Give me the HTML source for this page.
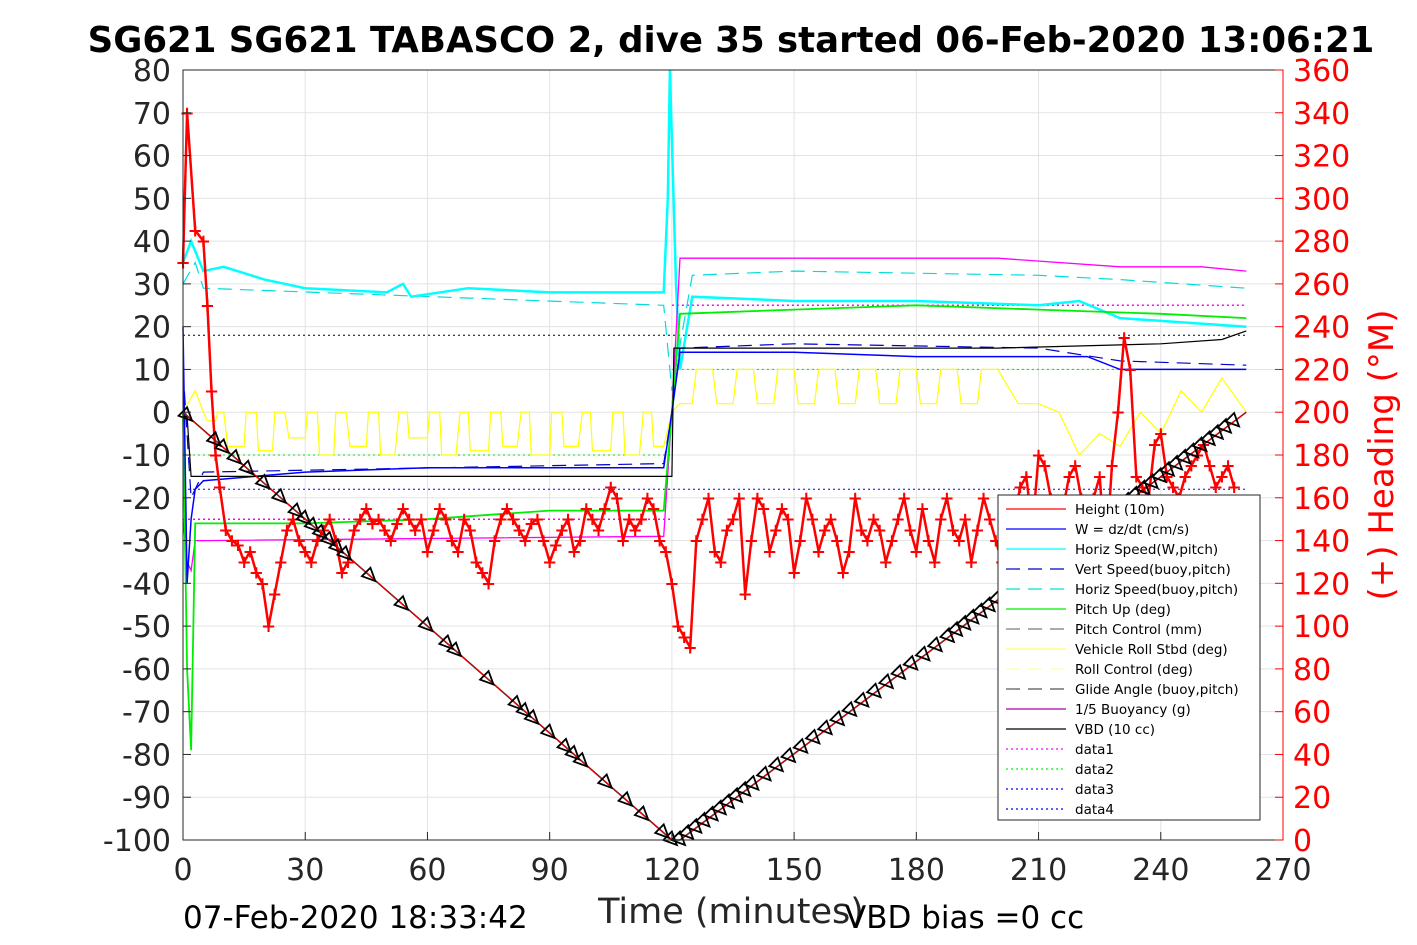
<!DOCTYPE html>
<html><head><meta charset="utf-8"><style>
body{margin:0;background:#fff;}
svg{display:block;font-family:"DejaVu Sans","Liberation Sans",sans-serif;}
</style></head><body>
<svg id="c" width="1417" height="945"></svg>
<script>
const depthT=[0,120,122,261];
const depthV=[0,-100,-100,0];
const markerT=[1,8,10,13,16,20,24,28,30,32,34,36,38,40,46,54,60,65,67,75,82,84,86,90,94,96,98,104,109,113,118,120,122,124,126,128,130,132,134,136,138,140,143,146,149,152,155,158,161,164,167,170,173,176,179,182,185,188,190,192,194,196,198,200,230,232,234,236,238,240,242,244,246,248,250,252,254,256,258];
const headT=[0,1,3,5,6,7,8,9,10.5,12,13.5,15,16.5,18,19.5,21,22.5,24,25.5,27,28.5,30,31.5,33,34.5,36,37.5,39,40.5,42,43.5,45,46.5,48,49.5,51,52.5,54,55.5,57,58.5,60,61.5,63,64.5,66,67.5,69,70.5,72,73.5,75,76.5,78,79.5,81,82.5,84,85.5,87,88.5,90,91.5,93,94.5,96,97.5,99,100.5,102,103.5,105,106.5,108,109.5,111,112.5,114,115.5,117,118.5,120,121.5,123,124.5,126,127.5,129,130.5,132,133.5,135,136.5,138,139.5,141,142.5,144,145.5,147,148.5,150,151.5,153,154.5,156,157.5,159,160.5,162,163.5,165,166.5,168,169.5,171,172.5,174,175.5,177,178.5,180,181.5,183,184.5,186,187.5,189,190.5,192,193.5,195,196.5,198,199.5,201,202.5,204,205.5,207,208.5,210,211.5,213,214.5,216,217.5,219,220.5,222,223.5,225,226.5,228,229.5,231,232.5,234,235.5,237,238.5,240,241.5,243,244.5,246,247.5,249,250.5,252,253.5,255,256.5,258];
const headV=[270,340,285,280,250,210,180,165,145,140,138,130,135,125,120,100,115,130,145,150,140,135,130,140,145,150,140,125,130,145,150,155,148,150,145,140,148,155,150,145,150,135,145,155,150,140,135,150,145,130,125,120,140,150,155,150,145,140,148,150,140,130,138,145,150,135,140,155,150,145,155,165,160,140,150,145,150,160,155,140,135,120,100,95,90,140,150,160,135,130,145,150,160,115,140,160,155,135,145,155,150,125,140,160,150,135,145,150,140,125,135,160,145,140,150,145,130,140,150,160,145,135,155,140,130,150,160,145,140,150,130,145,160,150,140,130,125,150,165,170,145,180,175,160,150,155,170,175,160,150,160,170,130,175,200,235,220,170,165,160,185,190,170,165,160,170,175,180,185,175,165,170,175,165];
const hsT=[0,2,5,10,20,30,50,54,56,70,90,118,119,119.5,121,122,125,150,180,210,220,230,261];
const hsV=[35,40,33,34,31,29,28,30,27,29,28,28,50,80,30,10,27,26,26,25,26,22,20];
const hsbT=[0,3,5,118,120,125,150,210,230,261];
const hsbV=[30,35,29,25,5,32,33,32,31,29];
const buoyT=[0,1,2,3,5,118,120,122,200,230,250,261];
const buoyV=[-25,-35,-37,-30,-30,-29,0,36,36,34,34,33];
const pitchT=[0,1,2,3,5,30,60,90,118,120,122,150,180,210,240,261];
const pitchV=[0,-60,-79,-26,-26,-26,-25,-23,-23,0,23,24,25,24,23,22];
const wT=[0,1,2,3,5,30,60,90,118,120,122,150,180,210,222,230,261];
const wV=[20,-40,-25,-18,-16,-14,-13,-13,-13,0,14,14,13,13,13,10,10];
const vsbT=[0,2,5,118,120,122,150,210,230,261];
const vsbV=[10,-20,-14,-12,0,15,16,15,12,11];
const vbdT=[0,1,2,120,120.5,200,240,255,261];
const vbdV=[-1,-1,-15,-15,15,15,16,17,19];
const rollT=[0,3,5,6,8,8.5,10,11,15,15.5,18,18.5,22,22.5,25,26,30,30.5,33,33.5,37,37.5,40,41,45,45.5,48,48.5,52,53,55,55.5,60,60.5,63,63.5,67,68,70,70.5,75,75.5,78,78.5,82,83,85,85.5,90,90.5,93,93.5,97,98,100,100.5,105,105.5,108,108.5,112,113,115,115.5,118,120,122,125,126,130,131,135,136,140,141,145,146,150,151,155,156,160,161,165,166,170,171,175,176,180,181,185,186,190,191,195,196,200,205,210,215,220,225,230,235,240,245,250,255,261];
const rollV=[0,5,0,-2,-2,0,0,-8,-8,0,0,-9,-9,0,0,-6,-6,0,0,-10,-10,0,0,-8,-8,0,0,-10,-10,0,0,-6,-6,0,0,-10,-10,0,0,-9,-9,0,0,-8,-8,0,0,-10,-10,0,0,-8,-8,0,0,-9,-9,0,0,-10,-10,0,0,-8,-8,0,2,2,10,10,2,2,10,10,2,2,10,10,2,2,10,10,2,2,10,10,2,2,10,10,2,2,10,10,2,2,10,10,2,2,0,-10,-5,-8,0,-5,5,0,8,0,5,10,8];
const xTicks=[0,30,60,90,120,150,180,210,240,270];
const yTicks=[80,70,60,50,40,30,20,10,0,-10,-20,-30,-40,-50,-60,-70,-80,-90,-100];
const rTicks=[360,340,320,300,280,260,240,220,200,180,160,140,120,100,80,60,40,20,0];

const X0=183,X1=1283,Y0=70,Y1=840;
const sx=t=>X0+t/270*(X1-X0);
const sy=v=>Y0+(80-v)/180*(Y1-Y0);
const sr=v=>Y1-v/360*(Y1-Y0);
const svg=document.getElementById('c');
const NS='http://www.w3.org/2000/svg';
function mk(tag,at,parent){const e=document.createElementNS(NS,tag);for(const k in at)e.setAttribute(k,at[k]);(parent||svg).appendChild(e);return e;}
function txt(s,x,y,size,fill,anchor,weight){const e=mk('text',{x:x,y:y,'font-size':size,fill:fill,'text-anchor':anchor||'middle','font-weight':weight||'normal'});e.textContent=s;return e;}

mk('rect',{x:X0,y:Y0,width:X1-X0,height:Y1-Y0,fill:'#fff'});
xTicks.forEach(t=>{const l=mk('line',{x1:sx(t),x2:sx(t),y1:Y0,y2:Y1,stroke:'#e3e3e3'});

});
yTicks.forEach(v=>{const l=mk('line',{x1:X0,x2:X1,y1:sy(v),y2:sy(v),stroke:'#e3e3e3'});

});

function line(T,V,color,dash,w,name,fy){const p=T.map((t,i)=>sx(t).toFixed(1)+','+(fy||sy)(V[i]).toFixed(1)).join(' ');
const e=mk('polyline',{points:p,fill:'none',stroke:color,'stroke-width':w||1.2,'stroke-dasharray':dash||'none'});

return e;}

line([0,261],[18,18],'#000','2,3',1,'vbd-ref-upper');
line([0,261],[-18,-18],'#0000ff','2,3',1,'data4-line');
line([0,120],[-10,-10],'#00dd00','2,3',1,'data2-line');
line([120,261],[10,10],'#00dd00','2,3',1,'data2-line-ascent');
line([0,120],[-25,-25],'#ff00ff','2,3',1.5,'data1-line');
line([120,261],[25,25],'#ff00ff','2,3',1.5,'data1-line-ascent');

line(rollT,rollV,'#ffff00',null,1.2,'vehicle-roll-line');
line(hsbT,hsbV,'#00dddd','14,8',1.2,'horiz-speed-buoy-line');
line(hsT,hsV,'#00ffff',null,2.5,'horiz-speed-line');
line(buoyT,buoyV,'#ff00ff',null,1.3,'buoyancy-line');
line(pitchT,pitchV,'#00ee00',null,1.8,'pitch-up-line');
line(vsbT,vsbV,'#0000cc','14,8',1.2,'vert-speed-buoy-line');
line(wT,wV,'#0000ff',null,1.5,'w-dzdt-line');
line(vbdT,vbdV,'#000',null,1.2,'vbd-line');

line(headT,headV,'#ff0000',null,2.5,'heading-trace',sr);
headT.forEach((t,i)=>{const g=mk('text',{x:sx(t),y:sr(headV[i])+6,'font-size':18,fill:'#ff0000','text-anchor':'middle','font-weight':'bold'});g.textContent='+';

});

line(depthT,depthV,'#000',null,1.5,'depth-line');
line(depthT,depthV,'#ff0000',null,1,'height-line');
function depthAt(t){for(let i=0;i<depthT.length-1;i++){if(t<=depthT[i+1]){const f=(t-depthT[i])/(depthT[i+1]-depthT[i]);return depthV[i]+f*(depthV[i+1]-depthV[i]);}}return depthV[depthV.length-1];}
markerT.forEach(t=>{const cx=sx(t),cy=sy(depthAt(t));const m=mk('polygon',{points:`${cx-6},${cy-6} ${cx+7},${cy} ${cx-6},${cy+6}`,fill:'none',stroke:'#000','stroke-width':1.8,transform:`rotate(45 ${cx} ${cy})`});

});

mk('rect',{x:X0,y:Y0,width:X1-X0,height:Y1-Y0,fill:'none',stroke:'#262626','stroke-width':1});
xTicks.forEach(t=>{mk('line',{x1:sx(t),x2:sx(t),y1:Y1,y2:Y1-8,stroke:'#262626'});
const e=txt(String(t),sx(t),Y1+40,30,'#262626');

});
yTicks.forEach(v=>{mk('line',{x1:X0,x2:X0+8,y1:sy(v),y2:sy(v),stroke:'#262626'});
const e=txt(String(v),X0-12,sy(v)+11,30,'#262626','end');

});
rTicks.forEach(v=>{mk('line',{x1:X1,x2:X1-8,y1:sr(v),y2:sr(v),stroke:'#ff0000'});
const e=txt(String(v),X1+10,sr(v)+11,30,'#ff0000','start');

});
mk('line',{x1:X1,x2:X1,y1:Y0,y2:Y1,stroke:'#ff0000'});

let e=txt('SG621 SG621 TABASCO 2, dive 35 started 06-Feb-2020 13:06:21',731,52,35.5,'#000','middle','bold');

e=txt('Time (minutes)',731,923,35,'#262626');

e=txt('07-Feb-2020 18:33:42',183,928,31,'#000','start');

e=txt('VBD bias =0 cc',845,928,31,'#000','start');

e=txt('(+) Heading (°M)',0,0,34,'#ff0000');
e.setAttribute('transform','translate(1393,455) rotate(-90)');


const legNames=['Height (10m)','W = dz/dt (cm/s)','Horiz Speed(W,pitch)','Vert Speed(buoy,pitch)','Horiz Speed(buoy,pitch)','Pitch Up (deg)','Pitch Control (mm)','Vehicle Roll Stbd (deg)','Roll Control (deg)','Glide Angle (buoy,pitch)','1/5 Buoyancy (g)','VBD (10 cc)','data1','data2','data3','data4'];
const legColors=['#ff0000','#0000ff','#00ffff','#0000cc','#00dddd','#00ee00','#777','#ffff66','#ffffaa','#555','#aa00aa','#000','#ff00ff','#00ff00','#0000ff','#0000ff'];
const legDash=['none','none','none','14,8','14,8','none','14,8','none','14,8','14,8','none','none','2,3','2,3','2,3','2,3'];
const lg=mk('g',{});


mk('rect',{x:998,y:495,width:262,height:325,fill:'#fff',stroke:'#262626'},lg);
legNames.forEach((n,i)=>{const y=509+i*20;
const g=mk('g',{},lg);


mk('line',{x1:1006,x2:1066,y1:y,y2:y,stroke:legColors[i],'stroke-dasharray':legDash[i],'stroke-width':1.2},g);
const t=mk('text',{x:1075,y:y+5,'font-size':13.5,fill:'#000'},g);t.textContent=n;});
</script>
</body></html>
